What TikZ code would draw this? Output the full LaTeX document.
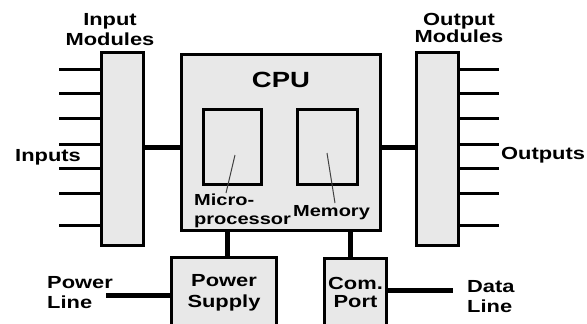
\documentclass[tikz,border=0pt]{standalone}
\usepackage{fontspec}
\setmainfont{Liberation Sans}[FakeStretch=1.25]
\usetikzlibrary{positioning}

\begin{document}
\begin{tikzpicture}[
  x=1pt, y=1pt,
  blk/.style={rectangle, draw, line width=3pt, fill=gray!18, inner sep=0pt,
              font=\fontsize{17.5}{21}\selectfont\bfseries, align=center},
  modl/.style={blk, minimum width=42pt, minimum height=193pt},
  chip/.style={blk, minimum height=75pt},
  bus/.style={line width=5pt},
  pin/.style={line width=3pt},
  lead/.style={line width=1pt, draw=black!75},
  lbl/.style={font=\fontsize{17.5}{20}\selectfont\bfseries, inner sep=0pt, align=left}
]
\useasboundingbox (0,0) rectangle (587,-324);

\node[modl] (inmod)  at (122.5,-149) {};
\node[modl] (outmod) at (437,-149) {};
\node[blk, minimum width=199pt, minimum height=176pt] (cpu) at (281,-142.5) {};
\node[chip, minimum width=58pt] (micro) at (232.5,-147) {};
\node[chip, minimum width=60pt] (mem)   at (327.5,-147) {};
\node[blk, minimum width=105pt, minimum height=71pt] (ps)  at (224,-293) {Power\\Supply};
\node[blk, minimum width=62pt, minimum height=70pt, font=\fontsize{17.5}{18}\selectfont\bfseries,
      text depth=3pt] (com) at (355.5,-293.5) {Com.\\Port};

\node[lbl, font=\fontsize{22}{24}\selectfont\bfseries] (cpulbl) at (281,-80) {CPU};
\node[lbl, align=center] (inlbl)  at (110,-30) {Input\\Modules};
\node[lbl, align=center, font=\fontsize{17.5}{15}\selectfont\bfseries] (outlbl) at (459,-28) {Output\\Modules};
\node[lbl, anchor=west] (inputs)  at (15,-157) {Inputs};
\node[lbl, anchor=west] (outputs) at (501,-155) {Outputs};
\node[lbl, anchor=west, font=\fontsize{16}{19}\selectfont\bfseries] (microlbl) at (194,-211) {Micro-\\processor};
\node[lbl, anchor=west, font=\fontsize{16}{19}\selectfont\bfseries] (memlbl) at (293,-213) {Memory};
\node[lbl, anchor=west] (pwrlbl)  at (47,-293) {Power\\Line};
\node[lbl, anchor=west] (datalbl) at (467,-297) {Data\\Line};

\foreach \y [count=\i] in {69,93,118,144,168,193,225} {
  \coordinate (in\i) at (59,-\y);
  \coordinate (out\i) at (499,-\y);
  \draw[pin] (in\i) -- (in\i -| inmod.west);
  \draw[pin] (outmod.east |- out\i) -- (out\i);
}

\draw[bus] (inmod.east |- micro) -- (cpu.west |- micro);
\draw[bus] (cpu.east |- mem) -- (outmod.west |- mem);
\draw[bus] ([xshift=3pt]ps.north) -- ([xshift=3pt]ps.north |- cpu.south);
\draw[bus] ([xshift=-5pt]com.north) -- ([xshift=-5pt]com.north |- cpu.south);

\coordinate (pl) at (106,-295);
\coordinate (dl) at (453,-290);
\draw[bus] (pl) -- (pl -| ps.west);
\draw[bus] (com.east |- dl) -- (dl);

\coordinate (mpin) at (235,-155);
\coordinate (mpout) at (226,-193);
\coordinate (mmin) at (327,-153);
\coordinate (mmout) at (335,-203);
\draw[lead] (mpin) -- (mpout);
\draw[lead] (mmin) -- (mmout);
\end{tikzpicture}
\end{document}
